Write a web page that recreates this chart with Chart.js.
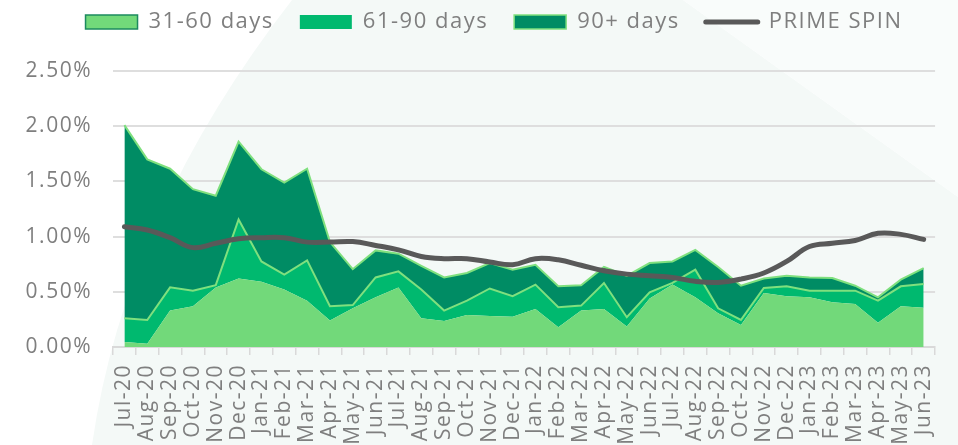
<!DOCTYPE html>
<html lang="en">
<head>
<meta charset="UTF-8">
<title>Delinquency buckets vs PRIME SPIN</title>
<script src="https://cdn.jsdelivr.net/npm/chart.js"></script>
<style>
  html, body { margin: 0; padding: 0; background: #fff; }
</style>
</head>
<body>
<canvas id="chart" width="958" height="445"></canvas>
<script>
const labels = ['Jul-20','Aug-20','Sep-20','Oct-20','Nov-20','Dec-20','Jan-21','Feb-21','Mar-21','Apr-21','May-21','Jun-21',
                'Jul-21','Aug-21','Sep-21','Oct-21','Nov-21','Dec-21','Jan-22','Feb-22','Mar-22','Apr-22','May-22','Jun-22',
                'Jul-22','Aug-22','Sep-22','Oct-22','Nov-22','Dec-22','Jan-23','Feb-23','Mar-23','Apr-23','May-23','Jun-23'];

// values in %
const days31to60 = [0.045,0.03,0.33,0.37,0.54,0.62,0.59,0.52,0.42,0.24,0.35,0.45,
                    0.54,0.26,0.235,0.29,0.28,0.275,0.345,0.18,0.33,0.345,0.185,0.44,
                    0.565,0.45,0.305,0.20,0.49,0.46,0.45,0.405,0.39,0.22,0.37,0.355];
const days61to90 = [0.215,0.215,0.21,0.14,0.02,0.535,0.185,0.135,0.365,0.13,0.03,0.18,
                    0.145,0.26,0.095,0.13,0.25,0.185,0.22,0.18,0.045,0.235,0.085,0.055,
                    0.015,0.25,0.045,0.045,0.045,0.09,0.06,0.105,0.12,0.20,0.18,0.215];
const days90plus = [1.75,1.455,1.075,0.92,0.81,0.705,0.835,0.835,0.83,0.58,0.325,0.245,
                    0.16,0.215,0.30,0.25,0.23,0.24,0.18,0.19,0.185,0.145,0.375,0.265,
                    0.195,0.18,0.375,0.31,0.085,0.095,0.12,0.115,0.045,0.03,0.06,0.145];
const primeSpin = [1.09,1.06,0.99,0.90,0.94,0.98,0.99,0.99,0.95,0.95,0.955,0.92,
                   0.88,0.82,0.80,0.80,0.77,0.745,0.80,0.79,0.74,0.69,0.66,0.645,
                   0.63,0.595,0.585,0.615,0.67,0.775,0.91,0.94,0.965,1.03,1.02,0.975];
const yTicks = [0, 0.5, 1, 1.5, 2, 2.5];

const grey = '#7f7f7f';
Chart.defaults.font.family = "'Open Sans', sans-serif";
Chart.defaults.color = grey;

// the original font is wider, so space the letters out a little
const spacing = {
    id: 'spacing',
    beforeUpdate(chart) { chart.ctx.letterSpacing = '1.5px'; },
    beforeDraw(chart) { chart.ctx.letterSpacing = '1.5px'; }
};

// legend sits a bit right of centre in the original
const legendShift = {
    id: 'legendShift',
    afterLayout(chart) {
        chart.legend.left += 20;
        chart.legend.right += 20;
    }
};

// faint decorative backdrop behind the plot
const backdrop = {
    id: 'backdrop',
    beforeDraw(chart) {
        const ctx = chart.ctx;
        ctx.save();
        ctx.fillStyle = '#f4f9f7';
        ctx.beginPath();
        ctx.moveTo(292, 0);
        ctx.quadraticCurveTo(125, 215, 92, 445);
        ctx.lineTo(958, 445);
        ctx.lineTo(958, 197);
        ctx.lineTo(683, 0);
        ctx.closePath();
        ctx.fill();
        ctx.fillStyle = '#f9fcfb';
        ctx.beginPath();
        ctx.moveTo(683, 0);
        ctx.lineTo(958, 197);
        ctx.lineTo(958, 0);
        ctx.closePath();
        ctx.fill();
        ctx.restore();
    }
};

const legendStyle = [
    { fill: '#72d97a', stroke: '#1d8a5f', width: 1.5, style: 'rect' },
    { fill: '#00b96f', stroke: '#00b96f', width: 0, style: 'rect' },
    { fill: '#008c64', stroke: '#7fe07e', width: 1.5, style: 'rect' },
    { fill: '#595959', stroke: '#595959', width: 5, style: 'line' }
];

new Chart(document.getElementById('chart'), {
    type: 'line',
    data: {
        labels: labels,
        datasets: [
            {
                label: '31-60 days',
                data: days31to60,
                backgroundColor: '#72d97a',
                borderWidth: 0,
                fill: 'origin',
                stack: 'buckets',
                pointRadius: 0,
                tension: 0
            },
            {
                label: '61-90 days',
                data: days61to90,
                backgroundColor: '#00b96f',
                borderColor: '#7fe07e',
                borderWidth: 2,
                fill: '-1',
                stack: 'buckets',
                pointRadius: 0,
                tension: 0
            },
            {
                label: '90+ days',
                data: days90plus,
                backgroundColor: '#008c64',
                borderColor: '#7fe07e',
                borderWidth: 2,
                fill: '-1',
                stack: 'buckets',
                pointRadius: 0,
                tension: 0
            },
            {
                label: 'PRIME SPIN',
                data: primeSpin,
                borderColor: '#595959',
                borderWidth: 5,
                borderCapStyle: 'round',
                fill: false,
                stack: 'prime',
                order: -1,
                pointRadius: 0,
                tension: 0.4
            }
        ]
    },
    options: {
        responsive: false,
        animation: false,
        layout: { padding: { top: -15, left: 0, right: 10, bottom: 0 } },
        scales: {
            x: {
                offset: true,
                grid: { offset: true, drawOnChartArea: false, drawTicks: true, tickLength: 8, color: '#d9d9d9', lineWidth: 1.5 },
                border: { color: '#d9d9d9', width: 2 },
                ticks: { autoSkip: false, minRotation: 90, maxRotation: 90, padding: 9, color: grey, font: { size: 21 } },
                afterFit: scale => { scale.height = 98; }
            },
            y: {
                stacked: true,
                min: 0,
                max: 2.5,
                grid: { color: '#dedede', lineWidth: 2, drawTicks: false },
                border: { display: false },
                afterBuildTicks: scale => { scale.ticks = yTicks.map(v => ({ value: v })); },
                ticks: {
                    padding: 21,
                    color: grey,
                    font: { size: 21 },
                    callback: v => v.toFixed(2) + '%'
                },
                afterFit: scale => { scale.width = 113; }
            }
        },
        plugins: {
            legend: {
                position: 'top',
                labels: {
                    usePointStyle: true,
                    pointStyleWidth: 52,
                    boxHeight: 14,
                    padding: 26,
                    color: grey,
                    font: { size: 22 },
                    generateLabels: chart => chart.data.datasets.map((ds, i) => ({
                        text: ds.label,
                        fillStyle: legendStyle[i].fill,
                        strokeStyle: legendStyle[i].stroke,
                        lineWidth: legendStyle[i].width,
                        pointStyle: legendStyle[i].style,
                        lineCap: 'round',
                        fontColor: grey,
                        hidden: false,
                        datasetIndex: i
                    }))
                }
            },
            title: {
                display: true,
                text: '',
                weight: 100,
                font: { size: 10, lineHeight: 1 },
                padding: { top: 0, bottom: 18 }
            },
            tooltip: { enabled: false }
        }
    },
    plugins: [spacing, legendShift, backdrop]
});
</script>
</body>
</html>
